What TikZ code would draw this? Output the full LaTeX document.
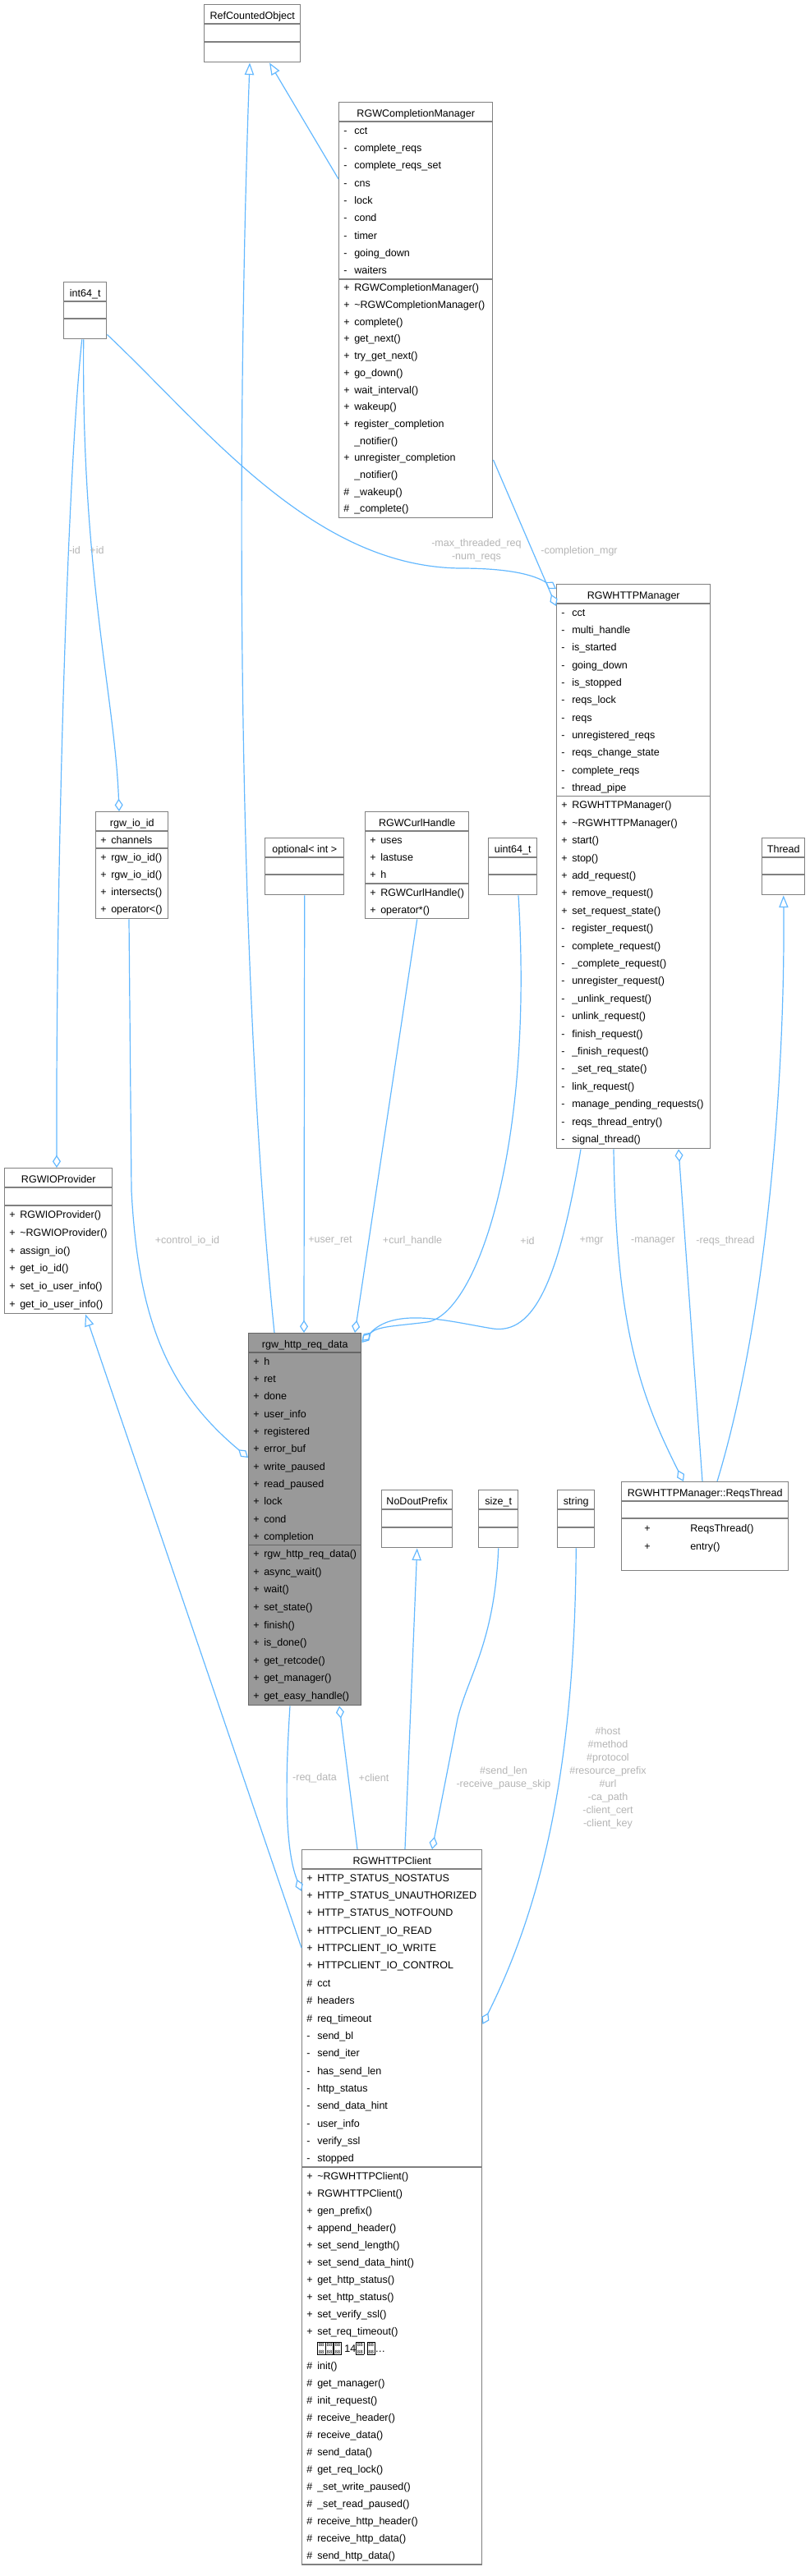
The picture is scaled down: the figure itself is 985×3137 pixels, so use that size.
\documentclass[tikz,border=0pt]{standalone}
\usepackage{fontspec}
\setmainfont{Liberation Sans}
\usepackage{tikz}
\usetikzlibrary{arrows.meta,calc}

\definecolor{edgeblue}{HTML}{63B8FF}
\definecolor{boxline}{HTML}{808080}
\definecolor{boxdark}{HTML}{666666}
\definecolor{boxfill}{HTML}{999999}
\definecolor{lblgray}{HTML}{B4B4B4}

\newcommand{\memfont}{\fontsize{9.4}{12}\selectfont}
\newcommand{\tofu}{{\setlength{\fboxsep}{0.8pt}\setlength{\fboxrule}{0.4pt}\raisebox{-1.5pt}{\fbox{\fontsize{4.5}{4.7}\selectfont\shortstack{88\\88}}}}}

% one compartment: node, part, top offset, row height, list of vis/name
\newcommand{\classrows}[5]{%
  \foreach \vis/\txt [count=\rowi] in {#5} {
    \node[mem] (#1#2v\rowi) at ($(#1.north west)+(6,{#3+#4*(\rowi-0.5)+4.5})$) {\vis};
    \node[mem] (#1#2\rowi) at ($(#1.north west)+(19,{#3+#4*(\rowi-0.5)+4.5})$) {\txt};
  }}
\newcommand{\compsep}[3][boxline]{\draw[sepline,draw=#1] ($(#2.north west)+(0,#3)$) -- ($(#2.north east)+(0,#3)$);}
\newcommand{\classtitle}[2]{\node[mem,anchor=base] (#1t) at ($(#1.north)+(0,18.5)$) {#2};}

\tikzset{
  cls/.style 2 args={draw=boxline, line width=1.1pt, fill=white, anchor=north west, inner sep=0pt,
    minimum width=#1*0.75pt, minimum height=#2*0.75pt},
  mem/.style={anchor=base west, inner sep=0pt, font=\memfont},
  sepline/.style={line width=1.1pt},
  lbl/.style={font=\memfont, text=lblgray, align=center, inner sep=0pt},
  link/.style={draw=edgeblue, line width=0.9pt},
  isa/.style={link, -{Triangle[open, length=11pt, width=8.5pt]}},
  has/.style={link, -{Diamond[open, length=11.5pt, width=7.5pt]}},
}

\begin{document}
\catcode`\_=12
\begin{tikzpicture}[x=0.75pt,y=-0.75pt,>=Stealth]
  \useasboundingbox (0,0) rectangle (985,3137);

  % classes
  \node[cls={117}{70}] (rco) at (248,5) {};
  \classtitle{rco}{RefCountedObject}
  \compsep{rco}{24} \compsep{rco}{46}

  \node[cls={187}{506}] (cmgr) at (412,124) {};
  \classtitle{cmgr}{RGWCompletionManager}
  \compsep{cmgr}{24} \compsep{cmgr}{216}
  \classrows{cmgr}{a}{24}{21.33}{-/cct, -/complete_reqs, -/complete_reqs_set, -/cns, -/lock, -/cond, -/timer, -/going_down, -/waiters}
  \classrows{cmgr}{m}{216}{20.7}{+/RGWCompletionManager(), +/\textasciitilde RGWCompletionManager(), +/complete(), +/get_next(), +/try_get_next(), +/go_down(), +/wait_interval(), +/wakeup(), +/register_completion, {}/_notifier(), +/unregister_completion, {}/_notifier(), \#/_wakeup(), \#/_complete()}

  \node[cls={52}{69}] (i64) at (77,343) {};
  \classtitle{i64}{int64_t}
  \compsep{i64}{24} \compsep{i64}{45}

  \node[cls={187}{687}] (hmgr) at (677,711) {};
  \classtitle{hmgr}{RGWHTTPManager}
  \compsep{hmgr}{24} \compsep{hmgr}{258.7}
  \classrows{hmgr}{a}{24}{21.33}{-/cct, -/multi_handle, -/is_started, -/going_down, -/is_stopped, -/reqs_lock, -/reqs, -/unregistered_reqs, -/reqs_change_state, -/complete_reqs, -/thread_pipe}
  \classrows{hmgr}{m}{258.7}{21.4}{+/RGWHTTPManager(), +/\textasciitilde RGWHTTPManager(), +/start(), +/stop(), +/add_request(), +/remove_request(), +/set_request_state(), -/register_request(), -/complete_request(), -/_complete_request(), -/unregister_request(), -/_unlink_request(), -/unlink_request(), -/finish_request(), -/_finish_request(), -/_set_req_state(), -/link_request(), -/manage_pending_requests(), -/reqs_thread_entry(), -/signal_thread()}

  \node[cls={88}{130}] (ioid) at (116,988) {};
  \classtitle{ioid}{rgw_io_id}
  \compsep{ioid}{24} \compsep{ioid}{45}
  \classrows{ioid}{a}{24}{21}{+/channels}
  \classrows{ioid}{m}{45}{21.25}{+/rgw_io_id(), +/rgw_io_id(), +/intersects(), +/operator<()}

  \node[cls={96}{69}] (opt) at (322,1020) {};
  \classtitle{opt}{optional< int >}
  \compsep{opt}{24} \compsep{opt}{45}

  \node[cls={126}{130}] (curl) at (444,988) {};
  \classtitle{curl}{RGWCurlHandle}
  \compsep{curl}{24} \compsep{curl}{88}
  \classrows{curl}{a}{24}{21.33}{+/uses, +/lastuse, +/h}
  \classrows{curl}{m}{88}{21}{+/RGWCurlHandle(), +/operator*()}

  \node[cls={59}{69}] (u64) at (594,1020) {};
  \classtitle{u64}{uint64_t}
  \compsep{u64}{24} \compsep{u64}{45}

  \node[cls={52}{69}] (thr) at (927,1020) {};
  \classtitle{thr}{Thread}
  \compsep{thr}{24} \compsep{thr}{45}

  \node[cls={131}{177}] (iop) at (5,1422) {};
  \classtitle{iop}{RGWIOProvider}
  \compsep{iop}{24} \compsep{iop}{46}
  \classrows{iop}{m}{46}{21.8}{+/RGWIOProvider(), +/\textasciitilde RGWIOProvider(), +/assign_io(), +/get_io_id(), +/set_io_user_info(), +/get_io_user_info()}

  \node[cls={137}{453}, draw=boxdark, fill=boxfill] (req) at (302,1623) {};
  \classtitle{req}{rgw_http_req_data}
  \compsep[boxdark]{req}{24} \compsep[boxdark]{req}{258.4}
  \classrows{req}{a}{24}{21.33}{+/h, +/ret, +/done, +/user_info, +/registered, +/error_buf, +/write_paused, +/read_paused, +/lock, +/cond, +/completion}
  \classrows{req}{m}{258.4}{21.6}{+/rgw_http_req_data(), +/async_wait(), +/wait(), +/set_state(), +/finish(), +/is_done(), +/get_retcode(), +/get_manager(), +/get_easy_handle()}

  \node[cls={86}{70}] (nodout) at (464,1814) {};
  \classtitle{nodout}{NoDoutPrefix}
  \compsep{nodout}{24} \compsep{nodout}{46}

  \node[cls={48}{70}] (sizet) at (582,1814) {};
  \classtitle{sizet}{size_t}
  \compsep{sizet}{24} \compsep{sizet}{46}

  \node[cls={45}{70}] (str) at (678,1814) {};
  \classtitle{str}{string}
  \compsep{str}{24} \compsep{str}{46}

  \node[cls={203}{108}] (rthr) at (756,1804) {};
  \classtitle{rthr}{RGWHTTPManager::ReqsThread}
  \compsep{rthr}{24} \compsep{rthr}{45}
  \node[mem] (rthrv1) at ($(rthr.north west)+(28,61)$) {+};
  \node[mem] (rthrm1) at ($(rthr.north west)+(84,61)$) {ReqsThread()};
  \node[mem] (rthrv2) at ($(rthr.north west)+(28,83)$) {+};
  \node[mem] (rthrm2) at ($(rthr.north west)+(84,83)$) {entry()};

  \node[cls={219}{870}] (cli) at (367,2252) {};
  \classtitle{cli}{RGWHTTPClient}
  \compsep{cli}{24} \compsep{cli}{387}
  \classrows{cli}{a}{24}{21.35}{+/HTTP_STATUS_NOSTATUS, +/HTTP_STATUS_UNAUTHORIZED, +/HTTP_STATUS_NOTFOUND, +/HTTPCLIENT_IO_READ, +/HTTPCLIENT_IO_WRITE, +/HTTPCLIENT_IO_CONTROL, \#/cct, \#/headers, \#/req_timeout, -/send_bl, -/send_iter, -/has_send_len, -/http_status, -/send_data_hint, -/user_info, -/verify_ssl, -/stopped}
  \classrows{cli}{m}{387}{21}{+/\textasciitilde RGWHTTPClient(), +/RGWHTTPClient(), +/gen_prefix(), +/append_header(), +/set_send_length(), +/set_send_data_hint(), +/get_http_status(), +/set_http_status(), +/set_verify_ssl(), +/set_req_timeout(), {}/{\tofu\tofu\tofu\ 14\tofu\ \tofu\ldots}, \#/init(), \#/get_manager(), \#/init_request(), \#/receive_header(), \#/receive_data(), \#/send_data(), \#/get_req_lock(), \#/_set_write_paused(), \#/_set_read_paused(), \#/receive_http_header(), \#/receive_http_data(), \#/send_http_data()}

  % inheritance
  \draw[isa] ($(req.north west)+(32,0)$) .. controls (286,1150) and (289,500) .. ($(rco.south west)+(56,0)$);
  \draw[isa] ($(cmgr.north west)+(0,94)$) -- ($(rco.south west)+(80,0)$);
  \draw[isa] ($(cli.north west)+(0,120)$) -- ($(iop.south west)+(99,0)$);
  \draw[isa] ($(cli.north west)+(126,0)$) -- (nodout.south);
  \draw[isa] ($(rthr.north west)+(117,0)$) .. controls (935,1600) and (956,1300) .. (thr.south);

  % members
  \draw[has] ($(i64.south)+(-4,0)$) .. controls (80,600) and (68,1100) .. ($(iop.north west)+(64,0)$);
  \draw[has] ($(i64.south)+(-2,0)$) .. controls (99,700) and (140,850) .. ($(ioid.north west)+(29,0)$);
  \draw[has] ($(i64.south east)+(0,-6)$) .. controls (250,520) and (380,690) .. (560,692)
    .. controls (620,692) and (650,700) .. ($(hmgr.north west)+(0,6)$);
  \draw[has] ($(cmgr.north east)+(0,436)$) -- ($(hmgr.north west)+(0,27)$);
  \draw[has] (opt.south) -- ($(req.north west)+(68,0)$);
  \draw[has] (curl.south) -- ($(req.north west)+(130,0)$);
  \draw[has] ($(u64.south west)+(37,0)$) .. controls (650,1400) and (580,1600) .. (520,1610)
    .. controls (480,1615) and (460,1615) .. ($(req.north east)+(0,10)$);
  \draw[has] ($(hmgr.south west)+(30,0)$) .. controls (680,1560) and (650,1625) .. (600,1618)
    .. controls (550,1610) and (480,1590) .. ($(req.north east)+(0,12)$);
  \draw[has] ($(ioid.south west)+(41,0)$) -- (160,1450) .. controls (168,1600) and (200,1690) .. ($(req.north west)+(0,152)$);
  \draw[has] ($(hmgr.south west)+(70,0)$) .. controls (750,1620) and (780,1700) .. ($(rthr.north west)+(76,0)$);
  \draw[has] ($(rthr.north west)+(99,0)$) -- ($(hmgr.south west)+(149,0)$);
  \draw[has] ($(cli.north west)+(68,0)$) -- ($(req.south west)+(111,0)$);
  \draw[has] ($(req.south west)+(51,0)$) .. controls (345,2200) and (350,2260) .. ($(cli.north west)+(0,51)$);
  \draw[has] (sizet.south) .. controls (602,2000) and (570,2040) .. (557,2093) -- ($(cli.north west)+(159,0)$);
  \draw[has] (str.south) .. controls (700,2150) and (660,2320) .. ($(cli.north east)+(0,213)$);

  % edge labels
  \node[lbl] (lid1) at (91,670) {-id};
  \node[lbl] (lid2) at (118,670) {+id};
  \node[lbl] (lmax) at (580,670) {-max_threaded_req\\-num_reqs};
  \node[lbl] (lcmp) at (705,671) {-completion_mgr};
  \node[lbl] (lctl) at (228,1511) {+control_io_id};
  \node[lbl] (lret) at (402,1511) {+user_ret};
  \node[lbl] (lcurl) at (502,1511) {+curl_handle};
  \node[lbl] (lid3) at (642,1511) {+id};
  \node[lbl] (lmgr) at (720,1511) {+mgr};
  \node[lbl] (lman) at (795,1511) {-manager};
  \node[lbl] (lrth) at (883,1511) {-reqs_thread};
  \node[lbl] (lreq) at (383,2165) {-req_data};
  \node[lbl] (lcli) at (455,2165) {+client};
  \node[lbl] (lsend) at (613,2165) {\#send_len\\-receive_pause_skip};
  \node[lbl] (lhost) at (740,2165) {\#host\\\#method\\\#protocol\\\#resource_prefix\\\#url\\-ca_path\\-client_cert\\-client_key};
\end{tikzpicture}
\end{document}
